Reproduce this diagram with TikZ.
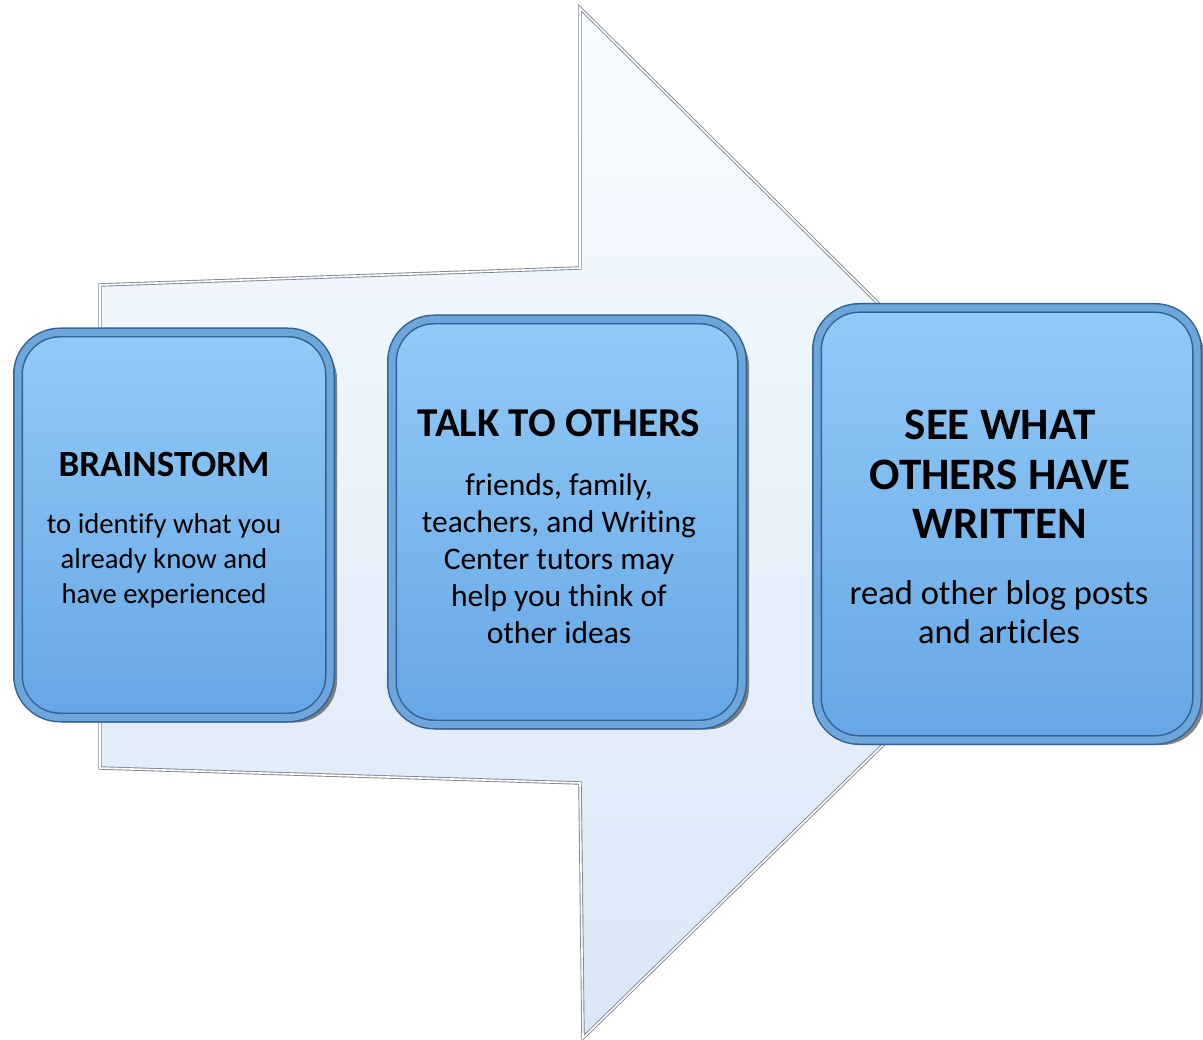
\documentclass[tikz,border=0pt]{standalone}
\usepackage{fontspec}
\setmainfont{Carlito}[Ligatures=NoCommon]
\usetikzlibrary{shadows}
\definecolor{arrowtop}{HTML}{F8FCFE}
\definecolor{arrowbot}{HTML}{D9E7F7}
\definecolor{arrowedge}{HTML}{7E8690}
\definecolor{boxtop}{HTML}{92CBF7}
\definecolor{boxbot}{HTML}{66A6E5}
\definecolor{boxedge}{HTML}{2F6298}
\definecolor{boxframe}{HTML}{6FA6DA}
\begin{document}
\begin{tikzpicture}[x=1pt,y=-1pt,
  bigarrow/.style={draw=arrowedge, line width=0.9pt, double=white, double distance=1.6pt,
    top color=arrowtop, bottom color=arrowbot, line join=miter},
  stepbox/.style={rounded corners=42pt, draw=boxedge, line width=1.5pt, double=boxframe,
    double distance=7pt, top color=boxtop, bottom color=boxbot, inner sep=0pt,
    drop shadow={shadow xshift=7pt, shadow yshift=-5pt, opacity=0.6, fill=black!80}},
  titletext/.style={anchor=base, align=center, text=black, inner sep=0pt},
  bodytext/.style={anchor=base, align=center, text=black, inner sep=0pt}]
\useasboundingbox (0,0) rectangle (1203,1040);
% big arrow
\coordinate (a1) at (100,285);
\coordinate (a2) at (580,268);
\coordinate (a3) at (580,8);
\coordinate (a4) at (1105,528);
\coordinate (a5) at (583,1038);
\coordinate (a6) at (580,783);
\coordinate (a7) at (100,768);
\path[bigarrow] (a1) -- (a2) -- (a3) -- (a4) -- (a5) -- (a6) -- (a7) -- cycle;
% boxes
\node[stepbox, minimum width=312pt, minimum height=385pt] (b1) at (174,525) {};
\node[stepbox, minimum width=350pt, minimum height=405pt] (b2) at (567,522) {};
\node[stepbox, minimum width=380pt, minimum height=432pt] (b3) at (1007,524) {};
% texts (base anchor = baseline of the last line)
\node[titletext, font=\fontsize{37}{42}\selectfont\bfseries] (t1) at (164,477) {BRAINSTORM};
\node[bodytext, font=\fontsize{28.7}{35}\selectfont] (d1) at (164,603) {to identify what you\\already know and\\have experienced};
\node[titletext, font=\fontsize{41}{46}\selectfont\bfseries] (t2) at (559,437) {TALK TO OTHERS};
\node[bodytext, font=\fontsize{31.5}{37}\selectfont] (d2) at (559,643) {friends, family,\\teachers, and Writing\\Center tutors may\\help you think of\\other ideas};
\node[titletext, font=\fontsize{45}{50}\selectfont\bfseries] (t3) at (1000,539) {SEE WHAT\\OTHERS HAVE\\WRITTEN};
\node[bodytext, font=\fontsize{34.5}{38.5}\selectfont] (d3) at (999,643) {read other blog posts\\and articles};
\end{tikzpicture}
\end{document}
